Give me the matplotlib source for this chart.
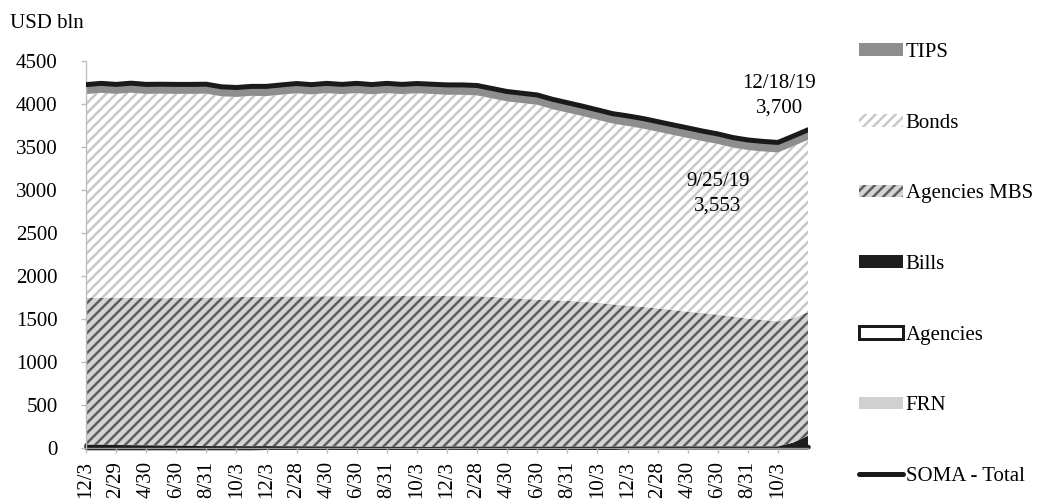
import numpy as np
import matplotlib
matplotlib.use('Agg')
import matplotlib.pyplot as plt
from matplotlib.patches import Patch
from matplotlib.lines import Line2D

plt.rcParams['font.family'] = ['Liberation Serif', 'DejaVu Serif']
plt.rcParams['hatch.linewidth'] = 1.5

DPI = 120
# ---------------- data (USD bln, monthly from 12/3/2015 to 12/18/2019) ----------------
months = list(range(49))
tick_pos = list(range(0, 47, 2))
tick_labels = ['12/3', '2/29', '4/30', '6/30', '8/31', '10/3',
               '12/3', '2/28', '4/30', '6/30', '8/31', '10/3',
               '12/3', '2/28', '4/30', '6/30', '8/31', '10/3',
               '12/3', '2/28', '4/30', '6/30', '8/31', '10/3']

frn = [4, 4, 4, 4, 4, 4, 4, 4, 4, 4, 4, 4,
       8, 8, 8, 8, 8, 8, 8, 8, 8, 8, 8, 8,
       12, 12, 12, 12, 12, 12, 12, 12, 12, 12, 12, 12,
       15, 15, 15, 15, 15, 15, 15, 15, 15, 15, 15, 15, 15]
agencies = [33, 33, 31, 28, 26, 24, 22, 20, 18, 18, 17, 16,
            14, 12, 11, 10, 9, 8, 7, 6, 6, 5, 5, 4,
            4, 4, 3, 3, 3, 2.4, 2.4, 2.4, 2.4, 2.4, 2.4, 2.4,
            2.4, 2.4, 2.4, 2.4, 2.4, 2.4, 2.4, 2.4, 2.4, 2.4, 2.4, 2.4, 2.4]
bills = [0] * 46 + [0, 45, 125]
mbs = [1708, 1711, 1715, 1716, 1715, 1714, 1719, 1724, 1728, 1730, 1734, 1738,
       1738, 1742, 1744, 1746, 1748, 1749, 1751, 1752, 1752, 1754, 1754, 1755,
       1751, 1750, 1750, 1743, 1730, 1721, 1711, 1704, 1698, 1686, 1674, 1658,
       1638, 1623, 1608, 1588, 1568, 1553, 1533, 1513, 1488, 1473, 1455, 1448, 1438]
bonds = [2370, 2382, 2368, 2384, 2373, 2378, 2373, 2370, 2370, 2338, 2327, 2337,
         2332, 2347, 2362, 2348, 2362, 2350, 2361, 2347, 2361, 2348, 2358, 2350,
         2340, 2341, 2335, 2307, 2285, 2275, 2265, 2222, 2188, 2160, 2129, 2101,
         2090, 2075, 2053, 2036, 2020, 1998, 1985, 1963, 1960, 1958, 1964, 1998, 2003]
tips = [110] * 12 + [113] * 12 + [115] * 12 + [117] * 13
soma_total = [4225, 4240, 4228, 4242, 4228, 4230, 4228, 4228, 4230, 4200, 4192, 4205,
              4205, 4222, 4238, 4225, 4240, 4228, 4240, 4226, 4240, 4228, 4238, 4230,
              4222, 4222, 4215, 4180, 4145, 4125, 4105, 4055, 4015, 3975, 3932, 3888,
              3862, 3832, 3795, 3758, 3722, 3685, 3652, 3610, 3582, 3565, 3553, 3625, 3700]

# ---------------- figure ----------------
W, H = 1037, 499
fig = plt.figure(figsize=(W / DPI, H / DPI), dpi=DPI)
ax = fig.add_axes([86 / W, 1 - 448 / H, (808 - 86) / W, 387 / H])

MBS_FACE, MBS_HATCH = '#d4d4d4', '#5e5e5e'
BND_FACE, BND_HATCH = 'white', '#c8c8c8'

x = np.array(months, dtype=float)
layers = [
    (frn, dict(facecolor='#d0d0d0', edgecolor='none', linewidth=0)),
    (agencies, dict(facecolor='white', edgecolor='#1a1a1a', linewidth=2.6, clip_on=False)),
    (bills, dict(facecolor='#1e1e1e', edgecolor='none', linewidth=0)),
    (mbs, dict(facecolor=MBS_FACE, edgecolor=MBS_HATCH, hatch='////', linewidth=0)),
    (bonds, dict(facecolor=BND_FACE, edgecolor=BND_HATCH, hatch='////', linewidth=0)),
    (tips, dict(facecolor='#8e8e8e', edgecolor='none', linewidth=0)),
]
base = np.zeros_like(x)
for vals, style in layers:
    top = base + np.array(vals, dtype=float)
    ax.fill_between(x, base, top, **style)
    base = top

ax.plot(x, soma_total, color='#1a1a1a', lw=3.0, solid_capstyle='round', zorder=5)

ax.set_xlim(0, 48)
ax.set_ylim(0, 4500)
ax.set_yticks(np.arange(0, 4501, 500))
ax.set_xticks(tick_pos)
ax.set_xticklabels(tick_labels, rotation=90, fontsize=12.5)
ax.tick_params(axis='y', labelsize=12.5, length=3, pad=14, color='#bdbdbd', width=0.8)
ax.tick_params(axis='x', length=3, pad=5, color='#bdbdbd', width=0.8)
for s in ['top', 'right']:
    ax.spines[s].set_visible(False)
ax.spines['left'].set_color('#bdbdbd')
ax.spines['bottom'].set_color('#9a9a9a')
ax.patch.set_alpha(0)

# annotations
ax.text(42.0, 3210, '9/25/19\n3,553', ha='center', va='top', fontsize=12.5,
        linespacing=1.4)
ax.text(46.1, 4345, '12/18/19\n3,700', ha='center', va='top', fontsize=12.5,
        linespacing=1.4)

fig.text(10 / W, 1 - 23 / H, 'USD bln', ha='left', va='center', fontsize=12.5)

# legend
handles = [
    Patch(facecolor='#8e8e8e', edgecolor='none'),
    Patch(facecolor=BND_FACE, edgecolor=BND_HATCH, hatch='////', linewidth=0),
    Patch(facecolor=MBS_FACE, edgecolor=MBS_HATCH, hatch='////', linewidth=0),
    Patch(facecolor='#1e1e1e', edgecolor='none'),
    Patch(facecolor='white', edgecolor='#1a1a1a', linewidth=1.8),
    Patch(facecolor='#d0d0d0', edgecolor='none'),
    Line2D([0], [0], color='#1a1a1a', lw=3, solid_capstyle='round'),
]
labels = ['TIPS', 'Bonds', 'Agencies MBS', 'Bills', 'Agencies', 'FRN', 'SOMA - Total']
fig.legend(handles, labels, loc='upper left', bbox_to_anchor=(859 / W, 1 - 43 / H),
           frameon=False, fontsize=12.5, labelspacing=2.48, handlelength=2.1,
           handleheight=0.55, handletextpad=0.15, borderpad=0, borderaxespad=0)

fig.savefig('out.png', dpi=DPI)
